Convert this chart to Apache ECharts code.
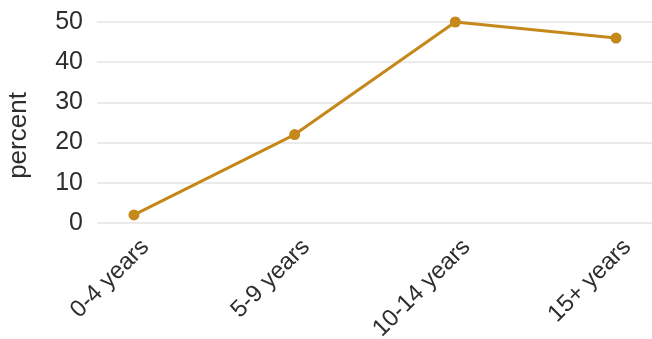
<!DOCTYPE html>
<html>
<head>
<meta charset="utf-8">
<script src="https://cdn.jsdelivr.net/npm/echarts@6/dist/echarts.min.js"></script>
<style>
  html, body { margin: 0; padding: 0; background: #fff; }
  #chart { width: 652px; height: 339px; }
</style>
</head>
<body>
<div id="chart"></div>
<script>
// Age groups along the horizontal axis
const categories = ['0-4 years', '5-9 years', '10-14 years', '15+ years'];
// Share of respondents in each group, percent
const percentValues = [2, 22, 50, 46];
// Vertical axis ticks
const yTicks = [0, 10, 20, 30, 40, 50];

const FONT = 'Liberation Sans, Arial, sans-serif';
const TEXT = '#2e2e2e';
const LINE = '#c5881a';
const chart = echarts.init(document.getElementById('chart'), null, { renderer: 'canvas' });

chart.setOption({
  animation: false,
  grid: { left: 97, right: 0, top: 22, bottom: 116, outerBoundsMode: 'none', containLabel: false },
  xAxis: {
    type: 'value',
    min: -0.23,
    max: 3.224,
    splitLine: { show: false },
    axisLine: { show: false },
    axisTick: { show: false },
    axisLabel: {
      customValues: categories.map((c, i) => i),
      formatter: v => categories[Math.round(v)],
      rotate: 45,
      margin: 9,
      verticalAlign: 'top',
      padding: [4, 0, 0, 0],
      color: TEXT,
      fontFamily: FONT,
      fontSize: 24
    }
  },
  yAxis: {
    type: 'value',
    min: yTicks[0],
    max: yTicks[yTicks.length - 1],
    interval: 10,
    name: 'percent',
    nameLocation: 'middle',
    nameGap: 65,
    nameRotate: 90,
    nameTextStyle: { color: TEXT, fontFamily: FONT, fontSize: 26, padding: [0, 26, 0, 0] },
    axisLine: { show: false },
    axisTick: { show: false },
    axisLabel: { color: TEXT, fontFamily: FONT, fontSize: 25, margin: 14 },
    splitLine: { lineStyle: { color: '#e4e4e4', width: 1.5 } }
  },
  series: [{
    type: 'line',
    data: percentValues.map((v, i) => [i, v]),
    symbol: 'circle',
    symbolSize: 11,
    lineStyle: { color: LINE, width: 3 },
    itemStyle: { color: LINE }
  }]
});
</script>
</body>
</html>
